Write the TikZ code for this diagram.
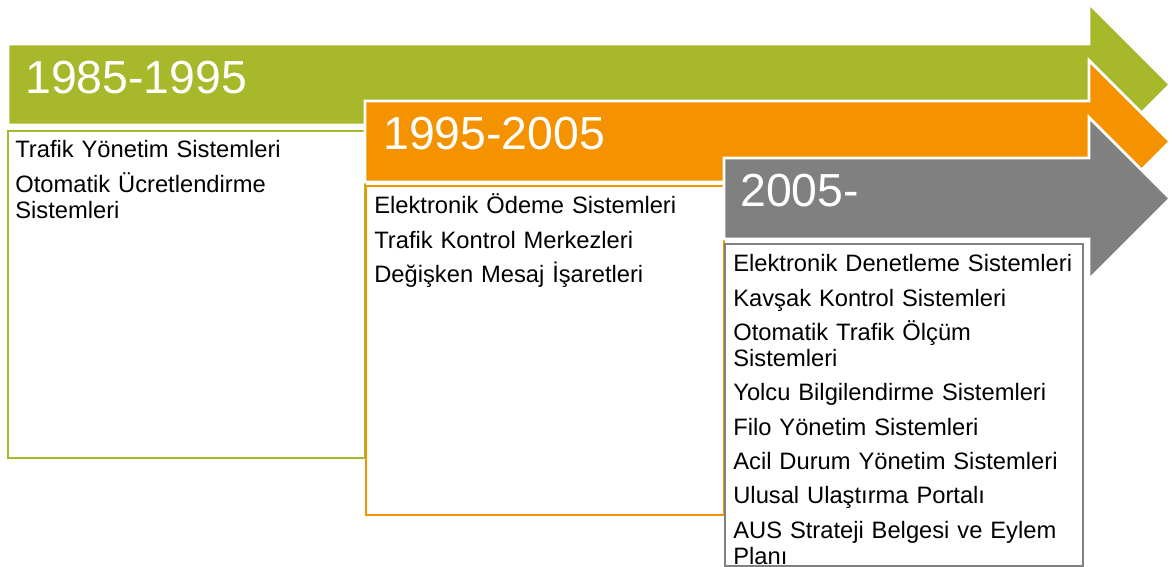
\documentclass[tikz,border=0pt]{standalone}
\usepackage{fontspec}
\setmainfont{Liberation Sans}
\usepackage{tikz}
\pgfkeys{/pixels/.code=\tikzset{x={(0.02cm,0cm)},y={(0cm,-0.02cm)}}}
\definecolor{periodgreen}{RGB}{167,185,43}
\definecolor{periodorange}{RGB}{245,146,0}
\definecolor{periodgray}{RGB}{128,128,128}
\newcommand{\itemgap}{4.85pt}
\newcommand{\periodarrow}[3][periodgreen]{  \fill[#1,draw=white,line width=1.6pt] (#2,#3) -- (1089,#3) -- (1089,#3-40.5) -- (1170,#3+40.5) -- (1089,#3+121.5) -- (1089,#3+81) -- (#2,#3+81) -- cycle;}

\begin{document}
\begin{tikzpicture}[/pixels,
  periodlabel/.style={anchor=base west,inner sep=0pt,text=white,font=\fontsize{26.4}{30}\selectfont},
  itemlist/.style={anchor=base west,inner sep=0pt,align=left,text width=6.9cm,font=\fontsize{13.5}{14.7}\selectfont},
  periodbox/.style={draw=#1,line width=1.15pt}]
  \useasboundingbox (0,0) rectangle (1172,567);

  \begin{scope}
    \periodarrow[periodgreen]{8}{44}
    \node[periodlabel] (p1) at (25,94) {1985-1995};
    \draw[periodbox=periodgreen] (8,131) rectangle (365,458);
    \node[itemlist] (l1) at (15,158) {Trafik Yönetim Sistemleri\\[\itemgap]
      Otomatik Ücretlendirme\\Sistemleri};
  \end{scope}

  \begin{scope}
    \periodarrow[periodorange]{365}{101}
    \node[periodlabel] (p2) at (383,150) {1995-2005};
    \draw[periodbox=periodorange] (366,186) rectangle (724,515);
    \node[itemlist] (l2) at (374,214) {Elektronik Ödeme Sistemleri\\[\itemgap]
      Trafik Kontrol Merkezleri\\[\itemgap]
      Değişken Mesaj İşaretleri};
  \end{scope}

  \begin{scope}
    \periodarrow[periodgray]{724}{158}
    \node[periodlabel] (p3) at (740,207) {2005-};
    \draw[periodbox=periodgray] (725,244) rectangle (1083,566);
    \node[itemlist] (l3) at (733,272) {Elektronik Denetleme Sistemleri\\[\itemgap]
      Kavşak Kontrol Sistemleri\\[\itemgap]
      Otomatik Trafik Ölçüm\\Sistemleri\\[\itemgap]
      Yolcu Bilgilendirme Sistemleri\\[\itemgap]
      Filo Yönetim Sistemleri\\[\itemgap]
      Acil Durum Yönetim Sistemleri\\[\itemgap]
      Ulusal Ulaştırma Portalı\\[\itemgap]
      AUS Strateji Belgesi ve Eylem\\Planı};
  \end{scope}
\end{tikzpicture}
\end{document}
